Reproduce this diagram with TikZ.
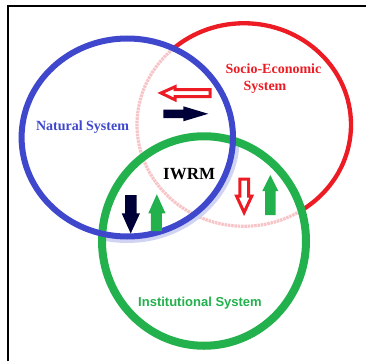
\documentclass[tikz,border=0pt]{standalone}
\usepackage{fontspec}
\setmainfont{Liberation Serif}
\newfontfamily\sansb{Liberation Sans}
\definecolor{cblue}{RGB}{63,72,204}
\definecolor{cred}{RGB}{237,28,36}
\definecolor{cgreen}{RGB}{34,177,76}
\definecolor{cnavy}{RGB}{0,0,56}
\definecolor{cpink}{RGB}{247,196,200}
\definecolor{chalo}{RGB}{208,212,242}
\begin{document}
\begin{tikzpicture}[x=1pt,y=-1pt,
  lbl/.style={anchor=base,inner sep=0pt,font=\fontsize{14}{16}\selectfont\bfseries},
  redring/.style={line width=4.3pt},
  faded/.style={cpink,line width=3.2pt,dash pattern=on 2.5pt off 0.8pt},
  outarrow/.style={draw=cred,line width=3pt,fill=white,line join=miter}]
\useasboundingbox (0,0) rectangle (366,361);
\fill[white] (0,0) rectangle (366,361);
% frame
\draw[line width=2.3pt] (7.8,361) -- (7.8,6.2) -- (366,6.2);
% red ring (solid)
\draw[cred,redring] (244,124.75) ellipse [x radius=107pt, y radius=101.5pt];
% faded red inside the blue ring
\begin{scope}
\clip (127.3,137.5) ellipse [x radius=105.7pt, y radius=99pt];
\draw[white,line width=7pt] (244,124.75) ellipse [x radius=107pt, y radius=101.5pt];
\draw[faded] (244,124.75) ellipse [x radius=107pt, y radius=101.5pt];
\end{scope}
% faded red inside the green ring
\begin{scope}
\clip (204,241) ellipse [x radius=102pt, y radius=104.75pt];
\draw[white,line width=7pt] (244,124.75) ellipse [x radius=107pt, y radius=101.5pt];
\draw[faded] (244,124.75) ellipse [x radius=107pt, y radius=101.5pt];
% blue halo inside green
\draw[chalo,line width=6pt] (127.3,137.5) ellipse [x radius=109.5pt, y radius=102.5pt];
\end{scope}
% green ring
\draw[cgreen,line width=8pt] (204,241) ellipse [x radius=102pt, y radius=104.75pt];
% blue ring
\draw[cblue,line width=6pt] (127.3,137.5) ellipse [x radius=105.7pt, y radius=99pt];
% arrows
\draw[outarrow] (161,93) -- (175,86.8) -- (175,89.5) -- (210.2,89.5) -- (210.2,96.5) -- (175,96.5) -- (175,99.8) -- cycle;
\fill[cnavy] (163.3,109.7) -- (183.3,109.7) -- (183.3,106.3) -- (208.3,113.8) -- (183.3,121.3) -- (183.3,118) -- (163.3,118) -- cycle;
\draw[outarrow] (239.8,179.2) -- (248.5,179.2) -- (248.5,196) -- (251.8,196) -- (244.1,212.5) -- (236.5,196) -- (239.8,196) -- cycle;
\fill[cgreen] (265,215) -- (265,191) -- (262.3,191) -- (270.3,175) -- (278.3,191) -- (275.7,191) -- (275.7,215) -- cycle;
\fill[cgreen] (150.8,231) -- (150.8,213.3) -- (148.3,213.3) -- (156.8,194.3) -- (165.5,213.3) -- (161.8,213.3) -- (161.8,231) -- cycle;
\fill[cnavy] (125,195) -- (136.7,195) -- (136.7,213.3) -- (140,213.3) -- (130.7,233.5) -- (121.7,213.3) -- (125,213.3) -- cycle;
% labels
\node[lbl,text=cblue] (nat) at (82.5,130) {Natural System};
\node[lbl,text=cred] (soc) at (273.5,74) {Socio-Economic};
\node[lbl,text=cred] (sys) at (265,90) {System};
\node[lbl,font=\fontsize{17}{19}\selectfont\bfseries] (iwrm) at (189.2,179) {IWRM};
\node[lbl,text=cgreen,font=\fontsize{13}{15}\selectfont\sansb\bfseries] (inst) at (200,306.5) {Institutional System};
\end{tikzpicture}
\end{document}
